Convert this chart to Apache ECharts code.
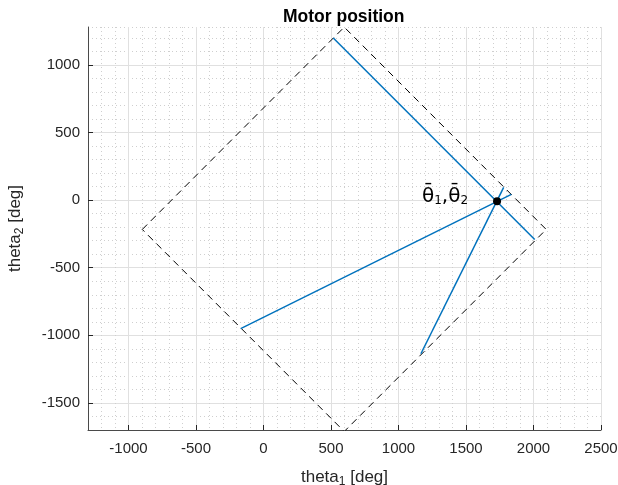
<!DOCTYPE html>
<html>
<head>
<meta charset="utf-8">
<script src="https://cdn.jsdelivr.net/npm/echarts@6/dist/echarts.min.js"></script>
<style>
    html, body { margin: 0; padding: 0; background: #fff; }
    #container { width: 618px; height: 485px; }
</style>
</head>
<body>
<div id="container"></div>
<script type="text/javascript">
    // workspace boundary (dashed square)
    var boundary = [[-898, -217], [598, 1279], [2094, -217], [598, -1711], [-898, -217]];
    // three motion paths through the reference point
    var path1 = [[517, 1198], [2009, -291]];
    var path2 = [[-169, -950], [1836, 42]];
    var path3 = [[1166, -1136], [1779, 94]];
    var center = [[1730, -9]];

    var xTicks = [-1000, -500, 0, 500, 1000, 1500, 2000, 2500];
    var yTicks = [-1500, -1000, -500, 0, 500, 1000];

    var font = 'Liberation Sans, Arial, sans-serif';
    var dark = '#262626';

    var dom = document.getElementById("container");
    var myChart = echarts.init(dom);

    function plain(v) {
        return String(v);
    }

    var option = {
        backgroundColor: '#fff',
        animation: false,
        title: {
            text: 'Motor position',
            left: 278,
            top: 3,
            textStyle: {fontFamily: font, fontSize: 17.5, fontWeight: 'bold', color: '#000'}
        },
        grid: {left: 88, right: 17, top: 27, bottom: 55, containLabel: false, outerBoundsMode: 'none'},
        xAxis: [
            {
                // minor dotted grid
                type: 'value', min: -1300, max: 2500, interval: 100,
                axisLine: {show: false}, axisTick: {show: false}, axisLabel: {show: false},
                splitLine: {show: true, lineStyle: {color: '#cfcfcf', type: [1, 3], width: 1}}
            },
            {
                type: 'value', min: -1300, max: 2500, position: 'bottom',
                axisLine: {show: true, onZero: false, lineStyle: {color: '#4a4a4a', width: 1}},
                axisTick: {show: true, inside: true, length: 5, customValues: xTicks, lineStyle: {color: dark}},
                axisLabel: {customValues: xTicks, formatter: plain, margin: 11, fontFamily: font, fontSize: 15, color: dark},
                splitLine: {show: true, lineStyle: {color: '#e0e0e0', width: 1}},
                name: 'theta{s|1} [deg]',
                nameLocation: 'middle',
                nameGap: 36,
                nameTextStyle: {
                    fontFamily: font, fontSize: 17, color: dark,
                    rich: {s: {fontFamily: font, fontSize: 12, color: dark, padding: [10, 0, 0, 0]}}
                }
            }
        ],
        yAxis: [
            {
                type: 'value', min: -1700, max: 1280, interval: 100,
                axisLine: {show: false}, axisTick: {show: false}, axisLabel: {show: false},
                splitLine: {show: true, lineStyle: {color: '#cfcfcf', type: [1, 3], width: 1}}
            },
            {
                type: 'value', min: -1700, max: 1280, position: 'left',
                axisLine: {show: true, onZero: false, lineStyle: {color: '#4a4a4a', width: 1}},
                axisTick: {show: true, inside: true, length: 5, customValues: yTicks, lineStyle: {color: dark}},
                axisLabel: {customValues: yTicks, formatter: plain, margin: 8, fontFamily: font, fontSize: 15, color: dark},
                splitLine: {show: true, lineStyle: {color: '#e0e0e0', width: 1}},
                name: 'theta{s|2} [deg]',
                nameLocation: 'middle',
                nameGap: 62,
                nameTextStyle: {
                    fontFamily: font, fontSize: 17, color: dark,
                    rich: {s: {fontFamily: font, fontSize: 12, color: dark, padding: [10, 0, 0, 0]}}
                }
            }
        ],
        series: [
            {
                type: 'line', xAxisIndex: 1, yAxisIndex: 1, data: boundary,
                symbol: 'none', lineStyle: {color: '#000', width: 1, type: [7, 5]}
            },
            {
                type: 'line', xAxisIndex: 1, yAxisIndex: 1, data: path1,
                symbol: 'none', lineStyle: {color: '#0072BD', width: 1.5}
            },
            {
                type: 'line', xAxisIndex: 1, yAxisIndex: 1, data: path2,
                symbol: 'none', lineStyle: {color: '#0072BD', width: 1.5}
            },
            {
                type: 'line', xAxisIndex: 1, yAxisIndex: 1, data: path3,
                symbol: 'none', lineStyle: {color: '#0072BD', width: 1.5}
            },
            {
                type: 'scatter', xAxisIndex: 1, yAxisIndex: 1, data: center,
                symbol: 'circle', symbolSize: 8, z: 5,
                itemStyle: {color: '#000', opacity: 1},
                label: {
                    show: true,
                    position: [-25, 10],
                    align: 'right',
                    verticalAlign: 'bottom',
                    formatter: '{t|θ\u0304}{s|1}{t|,θ\u0304}{s|2}',
                    rich: {
                        t: {fontFamily: 'DejaVu Sans', fontSize: 20, color: '#000'},
                        s: {fontFamily: 'DejaVu Sans', fontSize: 12, color: '#000', padding: [9, 0, 0, 0]}
                    }
                }
            }
        ]
    };
    myChart.setOption(option, true);
</script>
</body>
</html>
